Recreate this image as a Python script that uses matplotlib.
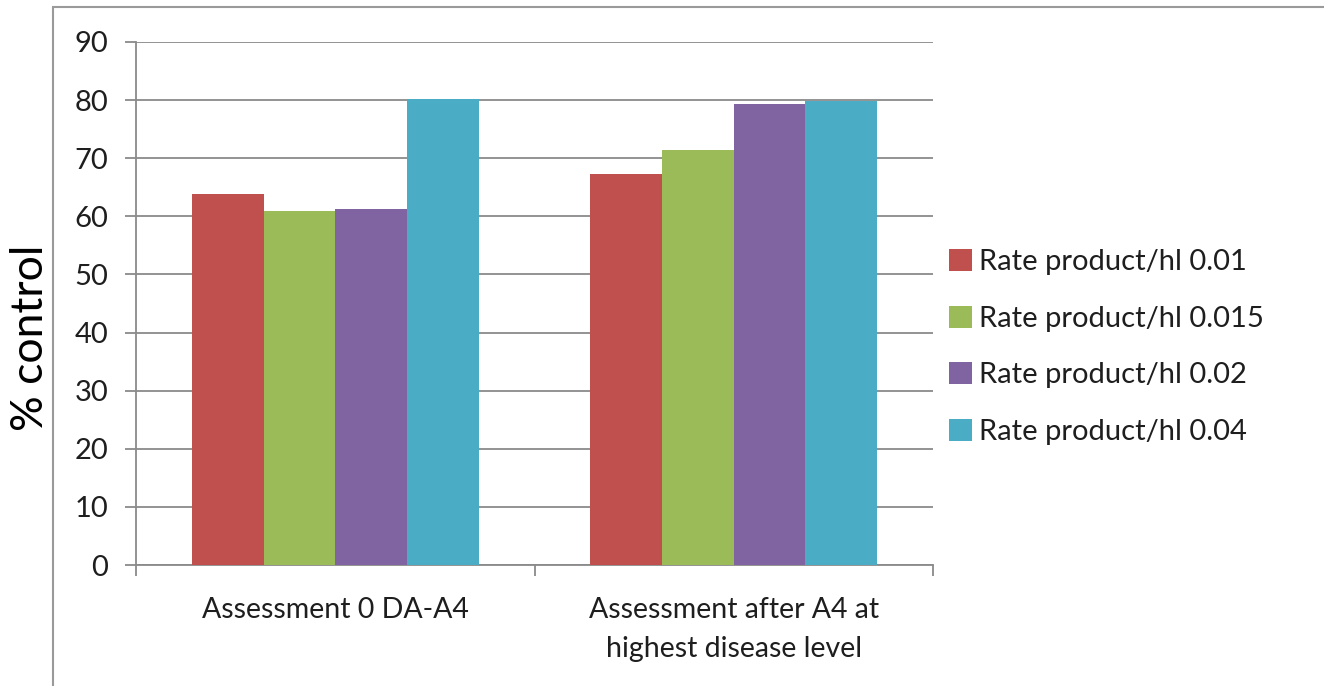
import numpy as np
import matplotlib.pyplot as plt
from matplotlib.patches import Rectangle, Patch

plt.rcParams['font.family'] = ['Lato', 'DejaVu Sans']

categories = ['Assessment 0 DA-A4', 'Assessment after A4 at\nhighest disease level']
series_names = ['Rate product/hl 0.01', 'Rate product/hl 0.015',
                'Rate product/hl 0.02', 'Rate product/hl 0.04']
rate_001 = [63.9, 67.2]
rate_0015 = [60.9, 71.4]
rate_002 = [61.2, 79.3]
rate_004 = [80.2, 79.9]
colors = ['#C0504D', '#9BBB59', '#8064A2', '#4BACC6']

values = [rate_001, rate_0015, rate_002, rate_004]
grey = '#8a8a8a'
txt = '#1e1e1e'

fig = plt.figure(figsize=(13.24, 6.86), dpi=100)
ax = fig.add_axes([136 / 1324, 1 - 565 / 686, (933 - 136) / 1324, (565 - 42) / 686])

# outer chart frame (cropped on right and bottom)
fig.patches.append(Rectangle((53 / 1324, -0.1), 1.2, 1.1 - 7 / 686, transform=fig.transFigure,
                             fill=False, edgecolor='#9a9a9a', linewidth=1.5))

x = np.arange(len(categories))
w = 0.72 / 4
for i, (vals, c) in enumerate(zip(values, colors)):
    ax.bar(x + (i - 1.5) * w, vals, width=w, color=c, zorder=3)

ax.set_xlim(-0.5, 1.5)
ax.set_ylim(0, 90)
ax.set_yticks(np.arange(0, 91, 10))
ax.yaxis.grid(True, color=grey, linewidth=1.3, zorder=0)
ax.set_axisbelow(True)
ax.spines['top'].set_visible(False)
ax.spines['right'].set_visible(False)
ax.spines['left'].set_color(grey)
ax.spines['bottom'].set_color(grey)
ax.spines['left'].set_linewidth(1.3)
ax.spines['bottom'].set_linewidth(1.3)

ax.set_xticks([-0.5, 0.5, 1.5])
ax.set_xticklabels([])
ax.set_xticks(x, minor=True)
ax.set_xticklabels(categories, minor=True, fontsize=20.5, color=txt, linespacing=1.6)
ax.tick_params(axis='x', which='major', length=8, width=1.3, color=grey)
ax.tick_params(axis='x', which='minor', length=0, pad=23)
ax.tick_params(axis='y', length=8, width=1.3, color=grey, labelsize=21, labelcolor=txt, pad=12)

fig.text(31 / 1324, 1 - 338 / 686, '% control', rotation=90, fontsize=32,
         ha='center', va='center', color='black')

handles = [Patch(facecolor=c) for c in colors]
fig.legend(handles, series_names, loc='center left', bbox_to_anchor=(923 / 1324, 1 - 347 / 686),
           frameon=False, fontsize=21, handlelength=0.78, handleheight=0.78,
           handletextpad=0.25, labelspacing=1.05, labelcolor=txt)

fig.savefig('out.png', dpi=100)
